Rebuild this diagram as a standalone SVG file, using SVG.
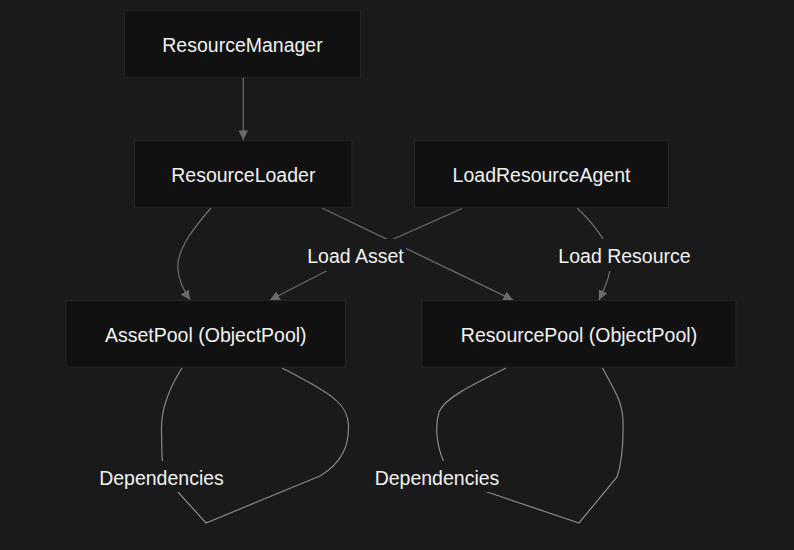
<svg xmlns="http://www.w3.org/2000/svg" width="794" height="550" viewBox="0 0 794 550">
  <defs>
    <marker id="arrow" viewBox="0 0 10 10" refX="10" refY="5" markerUnits="userSpaceOnUse" markerWidth="10" markerHeight="9.5" orient="auto">
      <path d="M0,0 L10,5 L0,10 z" fill="#6a6a6a"/>
    </marker>
    <style>
      .node rect { fill: #111111; stroke: #242424; stroke-width: 1; }
      .node text, .label text { font-family: "Liberation Sans", Arial, sans-serif; font-size: 19.5px; fill: #f2f2f2; text-anchor: middle; }
      .edge { fill: none; stroke: #6a6a6a; stroke-width: 1.3; }
      .loop { fill: none; stroke: #8a8a8a; stroke-width: 1.2; }
      .label rect { fill: #1a1a1a; }
    </style>
  </defs>
  <rect x="0" y="0" width="794" height="550" fill="#1a1a1a"/>

  <g id="connectors">
    <path class="edge" d="M243.3,78 L243.3,140" marker-end="url(#arrow)"/>
    <path class="edge" d="M211,208 C190,232 176,252 178,270 C179,282 184,291 190,300" marker-end="url(#arrow)"/>
    <path class="edge" d="M322,208 L513,300" marker-end="url(#arrow)"/>
    <path class="edge" d="M462,208.5 L355.5,256 L270,300" marker-end="url(#arrow)"/>
    <path class="edge" d="M577,208 C595,225 606,240 610,255 C613,270 606,285 599,300" marker-end="url(#arrow)"/>
    <path class="loop" d="M182,368 C168,390 161,410 161.5,430 L162,458 C163,470 170,482 178,492 L206,523 L320,476 C343,462 349,445 348.5,425 C347.5,405 335,395 282,368"/>
    <path class="loop" d="M506,368 C470,386 445,398 439,412 C435,425 436,445 444,462 C455,475 470,485 490,493 L579,523 L617,477 C622,462 623.5,440 623,420 C622,400 613,388 602.5,368"/>
  </g>

  <g id="label-load-asset" class="label">
    <rect x="303" y="239" width="103" height="32"/>
    <text x="355.5" y="263">Load Asset</text>
  </g>
  <g id="label-load-resource" class="label">
    <rect x="556" y="239" width="138" height="32"/>
    <text x="624.5" y="263">Load Resource</text>
  </g>
  <g id="label-dependencies-asset" class="label">
    <rect x="95" y="461" width="133" height="31"/>
    <text x="161.5" y="485">Dependencies</text>
  </g>
  <g id="label-dependencies-resource" class="label">
    <rect x="371" y="461" width="132" height="31"/>
    <text x="437" y="485">Dependencies</text>
  </g>

  <g id="ResourceManager" class="node">
    <rect x="124.5" y="10.5" width="236" height="67"/>
    <text x="242.5" y="52">ResourceManager</text>
  </g>
  <g id="ResourceLoader" class="node">
    <rect x="134.5" y="140.5" width="217.5" height="67"/>
    <text x="243.3" y="182">ResourceLoader</text>
  </g>
  <g id="LoadResourceAgent" class="node">
    <rect x="414.5" y="140.5" width="254" height="67"/>
    <text x="541.5" y="182">LoadResourceAgent</text>
  </g>
  <g id="AssetPool" class="node">
    <rect x="66" y="300.5" width="279.5" height="66.5"/>
    <text x="205.8" y="342">AssetPool (ObjectPool)</text>
  </g>
  <g id="ResourcePool" class="node">
    <rect x="422" y="300.5" width="314" height="66.5"/>
    <text x="579" y="342">ResourcePool (ObjectPool)</text>
  </g>
</svg>
